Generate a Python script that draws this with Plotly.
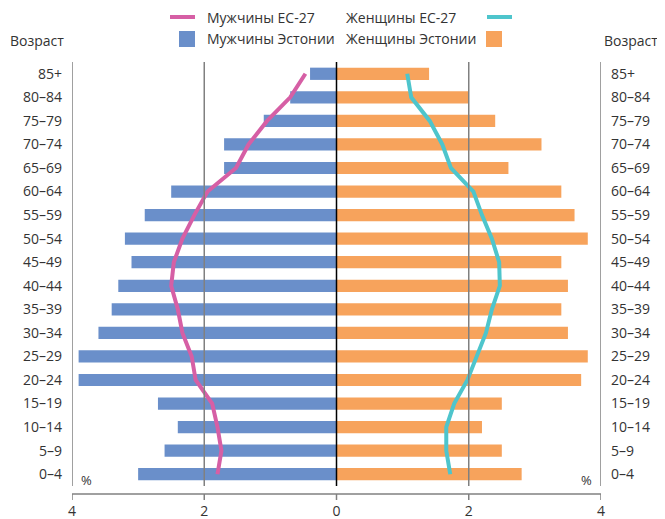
import plotly.graph_objects as go

# age groups, bottom to top
ages = ["0–4", "5–9", "10–14", "15–19", "20–24", "25–29", "30–34", "35–39", "40–44",
        "45–49", "50–54", "55–59", "60–64", "65–69", "70–74", "75–79", "80–84", "85+"]

# share of population, %
male_est = [3.0, 2.6, 2.4, 2.7, 3.9, 3.9, 3.6, 3.4, 3.3,
            3.1, 3.2, 2.9, 2.5, 1.7, 1.7, 1.1, 0.7, 0.4]
female_est = [2.8, 2.5, 2.2, 2.5, 3.7, 3.8, 3.5, 3.4, 3.5,
              3.4, 3.8, 3.6, 3.4, 2.6, 3.1, 2.4, 2.0, 1.4]
male_eu = [1.8, 1.74, 1.8, 1.88, 2.13, 2.19, 2.33, 2.4, 2.5,
           2.46, 2.33, 2.15, 1.95, 1.52, 1.33, 1.05, 0.7, 0.47]
female_eu = [1.72, 1.66, 1.66, 1.78, 1.98, 2.12, 2.26, 2.35, 2.47,
             2.46, 2.35, 2.2, 2.07, 1.73, 1.6, 1.41, 1.13, 1.07]

x_ticks = [-4, -2, 0, 2, 4]
x_labels = ["4", "2", "0", "2", "4"]

BLUE = "#6a8fca"
ORANGE = "#f7a35c"
PINK = "#d65fa5"
CYAN = "#4ec5cc"
GRID = "#808080"
TEXT = "#333333"
FONT = "Open Sans, sans-serif"

# the page body has an 8px margin, so the figure is shrunk by it
OFF = 8
FIG_W, FIG_H = 665 - OFF, 519 - OFF
# plot box in page pixels
L, R, T, B = 72, 601, 62, 486
W, H = R - L, B - T


def px_x(p):
    return (p - L) / W


def px_y(p):
    return (B - p) / H


fig = go.Figure()
fig.add_trace(go.Bar(
    y=ages, x=[-v for v in male_est], orientation="h",
    marker=dict(color=BLUE, line=dict(width=0)), name="Мужчины Эстонии",
    yaxis="y",
))
fig.add_trace(go.Scatter(
    y=ages, x=[-v for v in male_eu], mode="lines",
    line=dict(color=PINK, width=4), name="Мужчины ЕС-27", yaxis="y",
))
fig.add_trace(go.Bar(
    y=ages, x=female_est, orientation="h",
    marker=dict(color=ORANGE, line=dict(width=0)), name="Женщины Эстонии",
    yaxis="y2",
))
fig.add_trace(go.Scatter(
    y=ages, x=female_eu, mode="lines",
    line=dict(color=CYAN, width=4), name="Женщины ЕС-27", yaxis="y2",
))

shapes = []
# vertical grid lines drawn over the bars
for v in x_ticks:
    shapes.append(dict(
        type="line", xref="x", yref="paper", x0=v, x1=v, y0=0, y1=1,
        line=dict(color="#000000" if v == 0 else GRID, width=1.5), layer="above",
    ))
# detached bottom axis line with ticks
ax_y = px_y(494)
shapes.append(dict(type="line", xref="x", yref="paper", x0=-4, x1=4, y0=ax_y, y1=ax_y,
                   line=dict(color=GRID, width=1.5)))
for v in x_ticks:
    shapes.append(dict(type="line", xref="x", yref="paper", x0=v, x1=v,
                       y0=ax_y, y1=px_y(500), line=dict(color=GRID, width=1.5)))

# legend drawn by hand (symbols of the right column sit to the right of the text)
annotations = []
leg = [
    ("line", PINK, 170, 195, 17, "Мужчины ЕС-27", 205, "left"),
    ("line", CYAN, 487, 512, 17, "Женщины ЕС-27", 458, "right"),
    ("box", BLUE, 179, 195, 39, "Мужчины Эстонии", 205, "left"),
    ("box", ORANGE, 486, 502, 39, "Женщины Эстонии", 478, "right"),
]
for kind, color, x0, x1, yc, label, tx, anchor in leg:
    if kind == "line":
        shapes.append(dict(type="line", xref="paper", yref="paper",
                           x0=px_x(x0), x1=px_x(x1), y0=px_y(yc), y1=px_y(yc),
                           line=dict(color=color, width=4)))
    else:
        shapes.append(dict(type="rect", xref="paper", yref="paper",
                           x0=px_x(x0), x1=px_x(x1), y0=px_y(yc - 8), y1=px_y(yc + 8),
                           fillcolor=color, line=dict(width=0)))
    annotations.append(dict(xref="paper", yref="paper", x=px_x(tx), y=px_y(yc),
                            text=label, showarrow=False, xanchor=anchor, yanchor="middle",
                            font=dict(size=14, color=TEXT)))

for tx, anchor in [(8, "left"), (660, "right")]:
    annotations.append(dict(xref="paper", yref="paper", x=px_x(tx), y=px_y(40),
                            text="Возраст", showarrow=False, xanchor=anchor,
                            yanchor="middle", font=dict(size=14, color=TEXT)))
for tx in [86, 586]:
    annotations.append(dict(xref="paper", yref="paper", x=px_x(tx), y=px_y(480),
                            text="%", showarrow=False, xanchor="center",
                            yanchor="middle", font=dict(size=13, color=TEXT)))

yax = dict(
    type="category", categoryorder="array", categoryarray=ages,
    range=[-0.5, len(ages) - 0.5], showgrid=False, zeroline=False,
    showline=False, ticks="", ticklabelstandoff=9, automargin=False,
    tickfont=dict(size=14, color=TEXT, family=FONT), fixedrange=True,
)

fig.update_layout(
    width=FIG_W, height=FIG_H,
    margin=dict(l=L - OFF, r=FIG_W - (R - OFF), t=T - OFF, b=FIG_H - (B - OFF)),
    paper_bgcolor="white", plot_bgcolor="white",
    font=dict(family=FONT, size=14, color=TEXT),
    showlegend=False,
    barmode="overlay", bargap=0.48,
    xaxis=dict(
        range=[-4, 4], tickvals=x_ticks, ticktext=x_labels,
        showgrid=False, zeroline=False, showline=False, ticks="",
        ticklabelstandoff=15, automargin=False, tickfont=dict(size=14, color=TEXT),
    ),
    yaxis=dict(yax, side="left"),
    yaxis2=dict(yax, side="right", overlaying="y", matches="y"),
    shapes=shapes,
    annotations=annotations,
)

fig.write_html("out.html")
